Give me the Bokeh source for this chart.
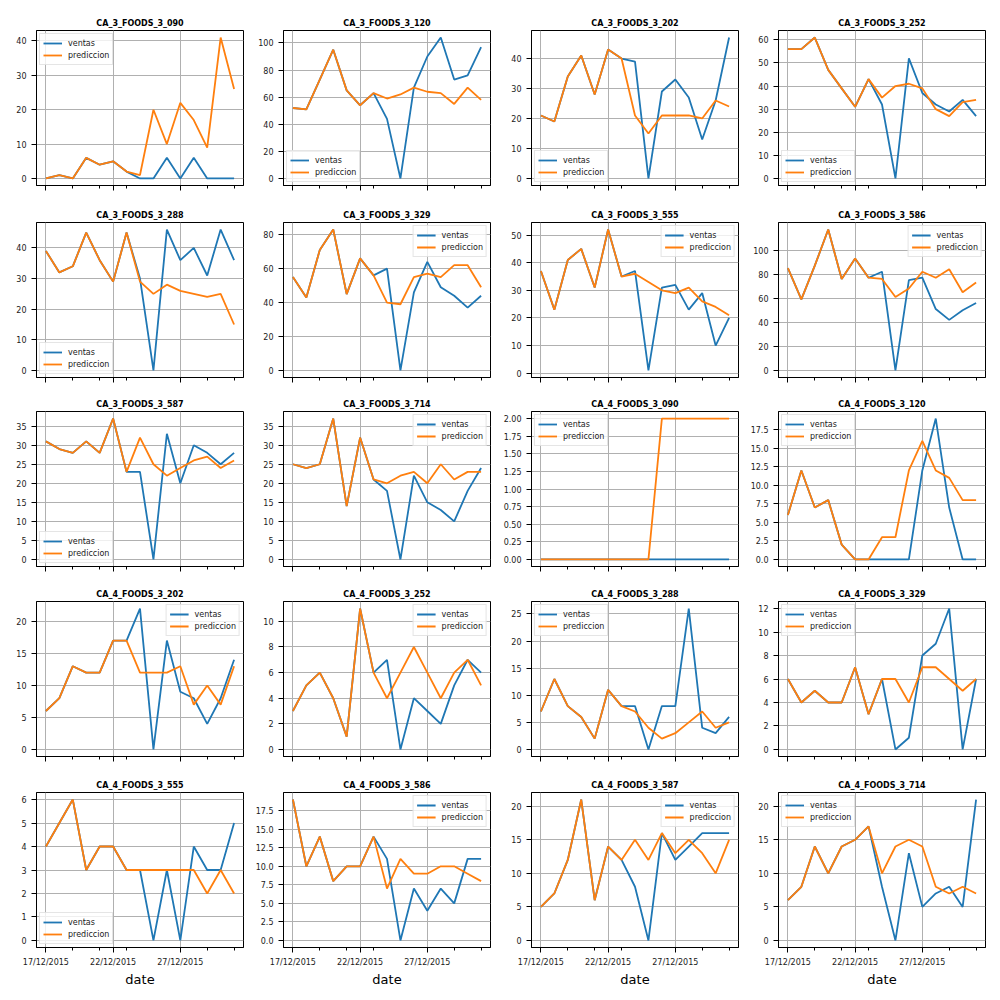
import numpy as np
import pandas as pd
from bokeh.plotting import figure
from bokeh.layouts import gridplot
from bokeh.models import Range1d, FixedTicker, Legend, LegendItem, NumeralTickFormatter
from bokeh.embed import file_html
from bokeh.resources import INLINE

# ---------------- data ----------------
dates = ["2015-12-17", "2015-12-18", "2015-12-19", "2015-12-20", "2015-12-21",
         "2015-12-22", "2015-12-23", "2015-12-24", "2015-12-25", "2015-12-26",
         "2015-12-27", "2015-12-28", "2015-12-29", "2015-12-30", "2015-12-31"]
x_major_dates = ["2015-12-17", "2015-12-22", "2015-12-27"]
x_major_labels = ["17/12/2015", "22/12/2015", "27/12/2015"]
x_minor_dates = ["2015-12-19", "2015-12-21", "2015-12-23", "2015-12-29", "2015-12-31"]

titles = ["CA_3_FOODS_3_090", "CA_3_FOODS_3_120", "CA_3_FOODS_3_202", "CA_3_FOODS_3_252",
          "CA_3_FOODS_3_288", "CA_3_FOODS_3_329", "CA_3_FOODS_3_555", "CA_3_FOODS_3_586",
          "CA_3_FOODS_3_587", "CA_3_FOODS_3_714", "CA_4_FOODS_3_090", "CA_4_FOODS_3_120",
          "CA_4_FOODS_3_202", "CA_4_FOODS_3_252", "CA_4_FOODS_3_288", "CA_4_FOODS_3_329",
          "CA_4_FOODS_3_555", "CA_4_FOODS_3_586", "CA_4_FOODS_3_587", "CA_4_FOODS_3_714"]

v_ca3_090 = [0, 1, 0, 6, 4, 5, 2, 0, 0, 6, 0, 6, 0, 0, 0]
p_ca3_090 = [0, 1, 0, 6, 4, 5, 2, 1, 20, 10, 22, 17, 9, 41, 26]
v_ca3_120 = [52, 51, 73, 95, 65, 54, 63, 44, 0, 67, 90, 104, 73, 76, 97]
p_ca3_120 = [52, 51, 73, 95, 65, 54, 63, 59, 62, 67, 64, 63, 55, 67, 58]
v_ca3_202 = [21, 19, 34, 41, 28, 43, 40, 39, 0, 29, 33, 27, 13, 26, 47]
p_ca3_202 = [21, 19, 34, 41, 28, 43, 40, 21, 15, 21, 21, 21, 20, 26, 24]
v_ca3_252 = [56, 56, 61, 47, 39, 31, 43, 32, 0, 52, 37, 32, 29, 34, 27]
p_ca3_252 = [56, 56, 61, 47, 39, 31, 43, 35, 40, 41, 39, 30, 27, 33, 34]
v_ca3_288 = [39, 32, 34, 45, 36, 29, 45, 30, 0, 46, 36, 40, 31, 46, 36]
p_ca3_288 = [39, 32, 34, 45, 36, 29, 45, 29, 25, 28, 26, 25, 24, 25, 15]
v_ca3_329 = [55, 43, 71, 83, 45, 66, 56, 60, 0, 46, 64, 49, 44, 37, 44]
p_ca3_329 = [55, 43, 71, 83, 45, 66, 56, 40, 39, 55, 57, 55, 62, 62, 49]
v_ca3_555 = [37, 23, 41, 45, 31, 52, 35, 37, 1, 31, 32, 23, 29, 10, 20]
p_ca3_555 = [37, 23, 41, 45, 31, 52, 35, 36, 33, 30, 29, 31, 26, 24, 21]
v_ca3_586 = [85, 59, 87, 117, 76, 93, 77, 82, 0, 75, 77, 51, 42, 50, 56]
p_ca3_586 = [85, 59, 87, 117, 76, 93, 77, 76, 61, 68, 82, 77, 84, 65, 73]
v_ca3_587 = [31, 29, 28, 31, 28, 37, 23, 23, 0, 33, 20, 30, 28, 25, 28]
p_ca3_587 = [31, 29, 28, 31, 28, 37, 23, 32, 25, 22, 24, 26, 27, 24, 26]
v_ca3_714 = [25, 24, 25, 37, 14, 32, 21, 18, 0, 22, 15, 13, 10, 18, 24]
p_ca3_714 = [25, 24, 25, 37, 14, 32, 21, 20, 22, 23, 20, 25, 21, 23, 23]
v_ca4_090 = [0, 0, 0, 0, 0, 0, 0, 0, 0, 0, 0, 0, 0, 0, 0]
p_ca4_090 = [0, 0, 0, 0, 0, 0, 0, 0, 0, 2, 2, 2, 2, 2, 2]
v_ca4_120 = [6, 12, 7, 8, 2, 0, 0, 0, 0, 0, 12, 19, 7, 0, 0]
p_ca4_120 = [6, 12, 7, 8, 2, 0, 0, 3, 3, 12, 16, 12, 11, 8, 8]
v_ca4_202 = [6, 8, 13, 12, 12, 17, 17, 22, 0, 17, 9, 8, 4, 8, 14]
p_ca4_202 = [6, 8, 13, 12, 12, 17, 17, 12, 12, 12, 13, 7, 10, 7, 13]
v_ca4_252 = [3, 5, 6, 4, 1, 11, 6, 7, 0, 4, 3, 2, 5, 7, 6]
p_ca4_252 = [3, 5, 6, 4, 1, 11, 6, 4, 6, 8, 6, 4, 6, 7, 5]
v_ca4_288 = [7, 13, 8, 6, 2, 11, 8, 8, 0, 8, 8, 26, 4, 3, 6]
p_ca4_288 = [7, 13, 8, 6, 2, 11, 8, 7, 4, 2, 3, 5, 7, 4, 5]
v_ca4_329 = [6, 4, 5, 4, 4, 7, 3, 6, 0, 1, 8, 9, 12, 0, 6]
p_ca4_329 = [6, 4, 5, 4, 4, 7, 3, 6, 6, 4, 7, 7, 6, 5, 6]
v_ca4_555 = [4, 5, 6, 3, 4, 4, 3, 3, 0, 3, 0, 4, 3, 3, 5]
p_ca4_555 = [4, 5, 6, 3, 4, 4, 3, 3, 3, 3, 3, 3, 2, 3, 2]
v_ca4_586 = [19, 10, 14, 8, 10, 10, 14, 11, 0, 7, 4, 7, 5, 11, 11]
p_ca4_586 = [19, 10, 14, 8, 10, 10, 14, 7, 11, 9, 9, 10, 10, 9, 8]
v_ca4_587 = [5, 7, 12, 21, 6, 14, 12, 8, 0, 16, 12, 14, 16, 16, 16]
p_ca4_587 = [5, 7, 12, 21, 6, 14, 12, 15, 12, 16, 13, 15, 13, 10, 15]
v_ca4_714 = [6, 8, 14, 10, 14, 15, 17, 8, 0, 13, 5, 7, 8, 5, 21]
p_ca4_714 = [6, 8, 14, 10, 14, 15, 17, 10, 14, 15, 14, 8, 7, 8, 7]

ventas = [v_ca3_090, v_ca3_120, v_ca3_202, v_ca3_252, v_ca3_288, v_ca3_329, v_ca3_555,
          v_ca3_586, v_ca3_587, v_ca3_714, v_ca4_090, v_ca4_120, v_ca4_202, v_ca4_252,
          v_ca4_288, v_ca4_329, v_ca4_555, v_ca4_586, v_ca4_587, v_ca4_714]
prediccion = [p_ca3_090, p_ca3_120, p_ca3_202, p_ca3_252, p_ca3_288, p_ca3_329, p_ca3_555,
              p_ca3_586, p_ca3_587, p_ca3_714, p_ca4_090, p_ca4_120, p_ca4_202, p_ca4_252,
              p_ca4_288, p_ca4_329, p_ca4_555, p_ca4_586, p_ca4_587, p_ca4_714]

y_tick_step = [10, 20, 10, 10, 10, 20, 10, 20, 5, 5, 0.25, 2.5, 5, 2, 5, 2, 1, 2.5, 5, 5]
y_tick_format = ["0"] * 10 + ["0.00", "0.0"] + ["0"] * 5 + ["0.0"] + ["0"] * 2
legend_loc = ["top_left", "bottom_left", "bottom_left", "bottom_left",
              "bottom_left", "top_right", "top_right", "top_right",
              "bottom_left", "top_right", "top_left", "top_left",
              "top_right", "top_right", "top_left", "top_left",
              "bottom_left", "top_right", "top_right", "top_left"]

# ---------------- styling ----------------
BLUE = "#1f77b4"
ORANGE = "#ff7f0e"
FONT = "DejaVu Sans"

xs = pd.to_datetime(dates)
x_ms = (xs.astype("int64") // 10**6).to_numpy().astype(float)
to_ms = lambda lst: [float(v) for v in (pd.to_datetime(lst).astype("int64") // 10**6)]
major_ms = to_ms(x_major_dates)
minor_ms = to_ms(x_minor_dates)

FRAME_W = 207
FRAME_H = 155
col_width = [248, 248, 247, 257]
col_left = [36, 35, 35, 35]
row_top = [30, 22, 22, 22, 22]
row_bottom = [15, 12, 13, 14, 45]

figs = []
for i, title in enumerate(titles):
    r, c = divmod(i, 4)
    bottom = (r == 4)
    v = ventas[i]
    p = prediccion[i]
    fig = figure(width=col_width[c], height=row_top[r] + FRAME_H + row_bottom[r],
                 output_backend="svg", toolbar_location=None, x_axis_type="datetime",
                 min_border_left=col_left[c],
                 min_border_right=col_width[c] - col_left[c] - FRAME_W,
                 min_border_top=row_top[r], min_border_bottom=row_bottom[r])
    fig.background_fill_color = "white"
    fig.border_fill_color = "white"
    fig.outline_line_color = "black"
    fig.outline_line_width = 1

    span = x_ms[-1] - x_ms[0]
    fig.x_range = Range1d(x_ms[0] - 0.05 * span, x_ms[-1] + 0.05 * span)
    lo = min(min(v), min(p))
    hi = max(max(v), max(p))
    ys = hi - lo
    fig.y_range = Range1d(lo - 0.05 * ys, hi + 0.05 * ys)

    fig.title.text = title
    fig.title.align = "center"
    fig.title.text_font = FONT
    fig.title.text_font_size = "8px"
    fig.title.text_font_style = "bold"
    fig.title.text_color = "black"
    fig.title.standoff = 6

    xa = fig.xaxis[0]
    xa.ticker = FixedTicker(ticks=major_ms, minor_ticks=minor_ms)
    ya = fig.yaxis[0]
    step = y_tick_step[i]
    yt = [float(t) for t in np.arange(0, hi + 1e-9, step)]
    ya.ticker = FixedTicker(ticks=yt)
    ya.formatter = NumeralTickFormatter(format=y_tick_format[i])
    ya.minor_tick_line_color = None

    for ax in (xa, ya):
        ax.axis_line_color = "black"
        ax.axis_line_width = 1
        ax.major_tick_line_color = "black"
        ax.major_tick_line_width = 1
        ax.major_tick_out = 5
        ax.major_tick_in = 0
        ax.minor_tick_out = 3
        ax.minor_tick_in = 0
        ax.major_label_text_font = FONT
        ax.major_label_text_font_size = "8px"
        ax.major_label_text_color = "#1a1a1a"
        ax.major_label_standoff = 5
    xa.minor_tick_line_color = "black"

    if bottom:
        xa.major_label_overrides = {t: lab for t, lab in zip(major_ms, x_major_labels)}
        xa.axis_label = "date"
        xa.axis_label_text_font = FONT
        xa.axis_label_text_font_size = "13px"
        xa.axis_label_text_font_style = "normal"
        xa.axis_label_text_color = "black"
        xa.axis_label_standoff = 2
    else:
        xa.major_label_overrides = {t: "" for t in major_ms}
        xa.major_label_text_font_size = "0px"
        xa.major_label_standoff = 0

    for g in (fig.xgrid[0], fig.ygrid[0]):
        g.grid_line_color = "#b0b0b0"
        g.grid_line_width = 1

    r1 = fig.line(x_ms, v, line_color=BLUE, line_width=1.8)
    r2 = fig.line(x_ms, p, line_color=ORANGE, line_width=1.8)
    leg = Legend(items=[LegendItem(label="ventas", renderers=[r1]),
                        LegendItem(label="prediccion", renderers=[r2])],
                 location=legend_loc[i])
    leg.label_text_font = FONT
    leg.label_text_font_size = "8px"
    leg.label_text_color = "#1a1a1a"
    leg.glyph_width = 19
    leg.glyph_height = 12
    leg.label_height = 12
    leg.label_standoff = 6
    leg.spacing = 0
    leg.padding = 3
    leg.margin = 3
    leg.border_line_color = "#cccccc"
    leg.border_line_width = 1
    leg.background_fill_color = "white"
    leg.background_fill_alpha = 0.8
    fig.add_layout(leg)
    figs.append(fig)

grid = gridplot(figs, ncols=4, toolbar_location=None)

open("out.html", "w").write(file_html(grid, INLINE))
